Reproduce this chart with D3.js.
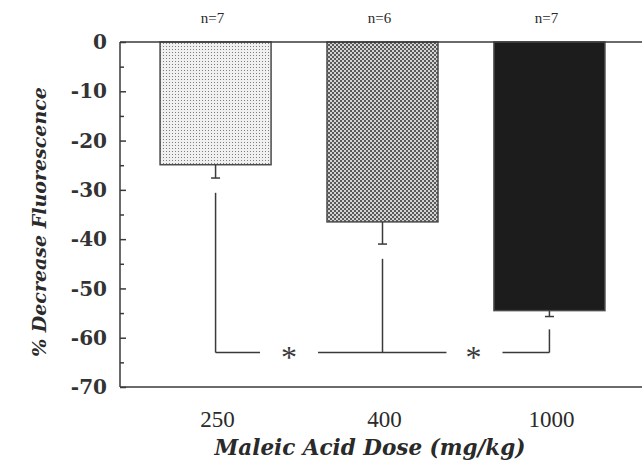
<!DOCTYPE html>
<html>
<head>
<meta charset="utf-8">
<script src="https://cdn.jsdelivr.net/npm/d3@7"></script>
<style>
  body { margin: 0; background: #fff; }
  svg { display: block; }
</style>
</head>
<body>
<script>
// data
const doses = ['250', '400', '1000'];
const means = [-24.9, -36.5, -54.5];
const errLow = [-27.6, -41.0, -55.7];
const nLabels = ['n=7', 'n=6', 'n=7'];
const yTicks = [0, -10, -20, -30, -40, -50, -60, -70];
const yMinor = [-5, -15, -25, -35, -45, -55, -65];
// significance bracket: each bar's line starts at this value and drops to sigLevel
const sigStart = [-30.6, -44.0, -58.3];
const sigLevel = -63;

const width = 642, height = 462;
const ink = '#3a3a3a';

const svg = d3.select('body').append('svg')
  .attr('width', width)
  .attr('height', height);

// patterns for the three bars
const defs = svg.append('defs');
const dots = defs.append('pattern')
  .attr('id', 'dots').attr('patternUnits', 'userSpaceOnUse')
  .attr('width', 3).attr('height', 3);
dots.append('rect').attr('width', 3).attr('height', 3).attr('fill', '#f0f0f0');
dots.append('rect').attr('x', 1).attr('y', 1).attr('width', 1).attr('height', 1).attr('fill', '#7e7e7e');

const check = defs.append('pattern')
  .attr('id', 'check').attr('patternUnits', 'userSpaceOnUse')
  .attr('width', 4).attr('height', 4);
check.append('rect').attr('width', 4).attr('height', 4).attr('fill', '#d4d4d4');
check.append('rect').attr('width', 2).attr('height', 2).attr('fill', '#5a5a5a');
check.append('rect').attr('x', 2).attr('y', 2).attr('width', 2).attr('height', 2).attr('fill', '#5a5a5a');

const fills = ['url(#dots)', 'url(#check)', '#1c1c1c'];

// scales
const xScale = d3.scaleBand()
  .domain(doses)
  .range([120, 645])
  .paddingInner(0.335)
  .paddingOuter(0.24);

const yScale = d3.scaleLinear()
  .domain([-70, 0])
  .range([387, 42]);

const cx = d => xScale(d) + xScale.bandwidth() / 2;

// bars
svg.append('g')
  .selectAll('rect')
  .data(doses)
  .join('rect')
  .attr('x', d => xScale(d))
  .attr('y', yScale(0))
  .attr('width', xScale.bandwidth())
  .attr('height', (d, i) => yScale(means[i]) - yScale(0))
  .attr('fill', (d, i) => fills[i])
  .attr('stroke', '#4a4a4a')
  .attr('stroke-width', 1.5);

// error bars (downward only)
const err = svg.append('g').attr('stroke', ink).attr('stroke-width', 1.5);
doses.forEach(function(d, i){
  err.append('line')
    .attr('x1', cx(d)).attr('x2', cx(d))
    .attr('y1', yScale(means[i])).attr('y2', yScale(errLow[i]));
  err.append('line')
    .attr('x1', cx(d) - 4.5).attr('x2', cx(d) + 4.5)
    .attr('y1', yScale(errLow[i])).attr('y2', yScale(errLow[i]));
});

// significance brackets
const sig = svg.append('g').attr('stroke', ink).attr('stroke-width', 1.5).attr('fill', 'none');
doses.forEach(function(d, i){
  sig.append('line')
    .attr('x1', cx(d)).attr('x2', cx(d))
    .attr('y1', yScale(sigStart[i])).attr('y2', yScale(sigLevel));
});
const step = xScale.step();
const star1 = cx(doses[0]) + step * 0.44;
const star2 = cx(doses[1]) + step * 0.545;
const gap = 29;
const segs = [
  [cx(doses[0]), star1 - gap],
  [star1 + gap, star2 - gap + 2],
  [star2 + gap, cx(doses[2])]
];
segs.forEach(function(s){
  sig.append('line')
    .attr('x1', s[0]).attr('x2', s[1])
    .attr('y1', yScale(sigLevel)).attr('y2', yScale(sigLevel));
});
[star1, star2].forEach(function(x){
  svg.append('text')
    .attr('x', x).attr('y', yScale(sigLevel) + 15)
    .attr('text-anchor', 'middle')
    .attr('font-family', 'Liberation Serif, serif')
    .attr('font-size', 32)
    .attr('fill', ink)
    .text('*');
});

// top (zero) line and bottom line
svg.append('line')
  .attr('x1', 120).attr('x2', width)
  .attr('y1', yScale(0)).attr('y2', yScale(0))
  .attr('stroke', ink).attr('stroke-width', 1.5);
svg.append('line')
  .attr('x1', 120).attr('x2', width)
  .attr('y1', yScale(-70)).attr('y2', yScale(-70))
  .attr('stroke', ink).attr('stroke-width', 1.5);

// Y axis, ticks pointing inward
const yAxis = d3.axisRight(yScale).tickValues(yTicks).tickSize(6).tickFormat('');
const yg = svg.append('g')
  .attr('transform', 'translate(120,0)')
  .call(yAxis);
yg.select('.domain').remove();
yg.append('line').attr('y1', yScale(0)).attr('y2', yScale(-70)).attr('stroke', ink).attr('stroke-width', 1.5);
yg.selectAll('.tick line').attr('stroke', ink).attr('stroke-width', 1.5);

const yMinorAxis = d3.axisRight(yScale).tickValues(yMinor).tickSize(4).tickFormat('');
const ym = svg.append('g')
  .attr('transform', 'translate(120,0)')
  .call(yMinorAxis);
ym.select('.domain').remove();
ym.selectAll('.tick line').attr('stroke', ink).attr('stroke-width', 1.5);

svg.append('g')
  .selectAll('text')
  .data(yTicks)
  .join('text')
  .attr('x', 107)
  .attr('y', d => yScale(d))
  .attr('dy', '0.36em')
  .attr('text-anchor', 'end')
  .attr('font-family', 'DejaVu Serif, serif')
  .attr('font-weight', 'bold')
  .attr('font-size', 20)
  .attr('fill', '#333')
  .text(d => d);

// X tick labels
svg.append('g')
  .selectAll('text')
  .data(doses)
  .join('text')
  .attr('x', d => cx(d) + 2)
  .attr('y', 427)
  .attr('text-anchor', 'middle')
  .attr('font-family', 'Liberation Serif, serif')
  .attr('font-size', 23)
  .attr('fill', '#2a2a2a')
  .text(d => d);

// n labels
svg.append('g')
  .selectAll('text')
  .data(doses)
  .join('text')
  .attr('x', d => cx(d) - 3)
  .attr('y', 23)
  .attr('text-anchor', 'middle')
  .attr('font-family', 'Liberation Serif, serif')
  .attr('font-size', 15)
  .attr('fill', '#2a2a2a')
  .text((d, i) => nLabels[i]);

// axis titles
svg.append('text')
  .attr('x', 370)
  .attr('y', 455)
  .attr('text-anchor', 'middle')
  .attr('font-family', 'DejaVu Serif, serif')
  .attr('font-weight', 'bold')
  .attr('font-style', 'italic')
  .attr('font-size', 21.5)
  .attr('fill', '#2a2a2a')
  .text('Maleic Acid Dose (mg/kg)');

svg.append('text')
  .attr('transform', 'translate(46,222) rotate(-90)')
  .attr('text-anchor', 'middle')
  .attr('font-family', 'DejaVu Serif, serif')
  .attr('font-weight', 'bold')
  .attr('font-style', 'italic')
  .attr('font-size', 19)
  .attr('fill', '#2a2a2a')
  .text('% Decrease Fluorescence');
</script>
</body>
</html>
